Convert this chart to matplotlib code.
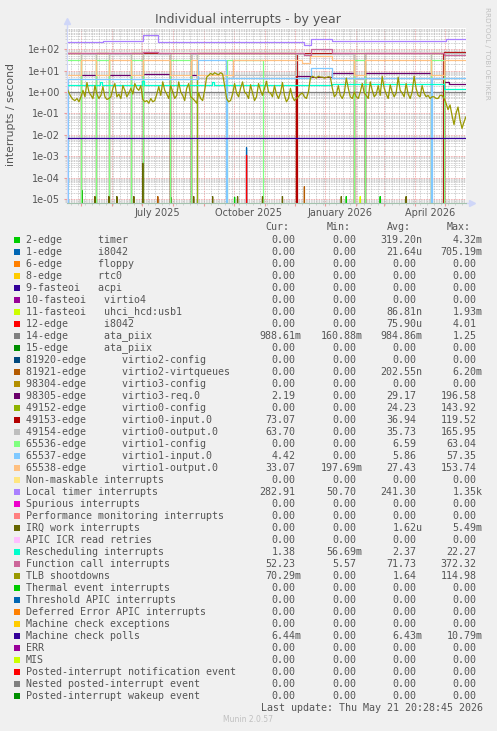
import numpy as np
import matplotlib
matplotlib.use("Agg")
import matplotlib.pyplot as plt
import matplotlib.dates as mdates
from matplotlib.patches import Rectangle
from matplotlib.ticker import LogLocator, FuncFormatter, NullFormatter

W, H = 497, 731
start = np.datetime64("2025-04-16T20:28")
span_days = 400

# x axis labels (rrdtool puts them mid-month)
month_labels = ["July 2025", "October 2025", "January 2026", "April 2026"]
month_label_dates = ["2025-07-16", "2025-10-16", "2026-01-16", "2026-04-16"]

# ---- series (day offset from start, value) ----
# step series: value holds from that day to the next breakpoint
timer_spike_days = [15, 76, 104, 168, 280, 314]
timer_spike_vals = [2.5e-5, 1.6e-5, 1.2e-5, 1.2e-5, 1.3e-5, 1.3e-5]
i8042_spike_days = [180]
i8042_spike_vals = [2.5e-3]
usb_spike_days = [294]
usb_spike_vals = [1.3e-5]
irq12_spike_days = [180]
irq12_spike_vals = [1.1e-3]
vq_spike_days = [91, 238]
vq_spike_vals = [1.3e-5, 3.8e-5]
irqwork_spike_days = [28, 42, 50, 67, 76, 127, 146, 171, 196, 216, 275, 340]
irqwork_spike_vals = [1.3e-5, 1.3e-5, 1.3e-5, 1.3e-5, 4.7e-4, 1.3e-5,
                      1.3e-5, 1.3e-5, 1.3e-5, 1.3e-5, 1.3e-5, 1.3e-5]

ata_days = [0, 400]
ata_vals = [1.0, 1.0]

req_days = [0, 14, 29, 42, 64, 76, 103, 124, 130, 230, 245, 266, 288, 299, 330, 365, 378, 383, 400]
req_vals = [0, 6.2, 0, 6.5, 0, 6.8, 0, 6.6, 0, 5.8, 5.0, 7.5, 0, 7.4, 7.8, 0, 2.8, 2.3, 2.3]

cfg0_days = [0, 14, 29, 42, 64, 76, 103, 124, 130, 230, 288, 299, 365, 378, 400]
cfg0_vals = [65, 0, 65, 0, 66, 0, 64, 0, 65, 0, 66, 0, 65, 0, 0]

in0_days = [0, 103, 124, 230, 231, 288, 299, 377, 378, 400]
in0_vals = [64, 0, 65, 0, 66, 0, 66, 0, 74, 74]

out0_days = [0, 14, 29, 42, 64, 76, 103, 124, 130, 166, 230, 288, 299, 365, 378, 400]
out0_vals = [4, 62, 4, 62, 4, 62, 4, 62, 4.5, 6, 63, 4, 64, 4, 64, 64]

cfg1_days = [0, 14, 29, 42, 64, 76, 103, 124, 160, 196, 288, 299, 365, 378, 400]
cfg1_vals = [30, 0, 30, 0, 30, 0, 31, 0, 30, 0, 30, 0, 31, 0, 0]

in1_days = [0, 1, 131, 159, 160, 245, 266, 365, 366, 400]
in1_vals = [0, 4.0, 30, 0, 4.5, 13, 4.6, 0, 4.4, 4.4]

out1_days = [0, 14, 29, 42, 64, 76, 103, 124, 130, 166, 236, 244, 266, 288, 299, 365, 378, 400]
out1_vals = [6, 33, 6, 33, 6, 33, 6, 33, 6, 33, 22, 46, 33, 6, 33, 6, 33, 33]

loc_days = [0, 36, 76, 91, 238, 245, 266, 380, 400]
loc_vals = [225, 232, 490, 228, 165, 290, 240, 290, 290]

resched_days = [0, 33, 35, 75, 77, 145, 147, 266, 378, 400]
resched_vals = [2.2, 3.0, 2.2, 3.2, 2.1, 3.0, 2.1, 2.5, 1.4, 1.4]

fcall_days = [0, 76, 91, 238, 245, 266, 378, 400]
fcall_vals = [68, 72, 68, 55, 100, 70, 52, 52]

mcp_days = [0, 400]
mcp_vals = [0.0068, 0.0068]

# TLB shootdowns, one reading every 2 days
tlb_vals = [1.5, 0.9, 0.6, 0.45, 0.4, 0.5, 0.35, 0.6,
            1.2, 0.6, 2.8, 1.0, 0.7, 0.5, 2.0, 0.8,
            0.5, 0.7, 1.8, 0.6, 0.45, 0.5, 0.6, 1.5,
            2.5, 0.6, 0.8, 0.5, 2.0, 1.2, 0.6, 0.9,
            1.5, 0.8, 2.5, 1.5, 1.2, 2.0, 0.45, 0.35,
            0.4, 0.3, 0.5, 0.35, 0.4, 0.8, 1.8, 0.7,
            3.0, 1.2, 0.8, 0.5, 2.0, 1.0, 0.5, 0.7,
            3.0, 1.0, 0.7, 0.4, 1.5, 2.5, 0.6, 0.5,
            0.4, 0.3, 0.9, 0.5, 0.4, 1.2, 5.0, 6.0,
            7.5, 6.5, 8.0, 7.0, 6.5, 8.0, 7.0, 2.0,
            0.5, 0.35, 0.4, 0.8, 2.5, 0.9, 0.6, 1.5,
            3.0, 1.0, 0.8, 0.5, 2.2, 0.9, 0.4, 0.6,
            2.5, 1.2, 0.7, 1.5, 3.2, 1.0, 0.9, 0.6,
            2.0, 0.8, 0.5, 0.9, 2.8, 0.7, 0.35, 0.5,
            1.5, 0.6, 0.4, 0.5, 0.6, 0.8, 0.9, 0.6,
            0.5, 1.0, 4.5, 5.5, 5.0, 4.5, 5.5, 5.0,
            5.0, 4.5, 4.8, 5.2, 5.0, 1.5, 0.6, 0.8,
            2.0, 0.7, 0.5, 0.9, 4.5, 1.5, 0.6, 0.5,
            1.0, 0.6, 0.5, 1.0, 2.5, 0.9, 0.7, 0.5,
            3.0, 1.2, 0.6, 0.8, 2.0, 0.7, 5.5, 1.5,
            0.8, 0.5, 2.2, 1.0, 0.6, 0.9, 5.0, 1.2,
            0.9, 0.6, 2.5, 0.8, 0.5, 1.0, 5.5, 1.5,
            0.7, 0.6, 2.0, 0.9, 0.6, 0.7, 0.5, 0.6,
            0.6, 0.5, 0.5, 0.7, 0.7, 0.5, 0.3, 0.15,
            0.25, 0.08, 0.03, 0.1, 0.2, 0.05, 0.02, 0.04,
            0.07]
tlb_days = np.arange(0, 401, 2)

# ---- legend table ----
legend_labels = [
    "2-edge      timer", "1-edge      i8042", "6-edge      floppy", "8-edge      rtc0",
    "9-fasteoi   acpi", "10-fasteoi   virtio4", "11-fasteoi   uhci_hcd:usb1",
    "12-edge      i8042", "14-edge      ata_piix", "15-edge      ata_piix",
    "81920-edge      virtio2-config", "81921-edge      virtio2-virtqueues",
    "98304-edge      virtio3-config", "98305-edge      virtio3-req.0",
    "49152-edge      virtio0-config", "49153-edge      virtio0-input.0",
    "49154-edge      virtio0-output.0", "65536-edge      virtio1-config",
    "65537-edge      virtio1-input.0", "65538-edge      virtio1-output.0",
    "Non-maskable interrupts", "Local timer interrupts", "Spurious interrupts",
    "Performance monitoring interrupts", "IRQ work interrupts", "APIC ICR read retries",
    "Rescheduling interrupts", "Function call interrupts", "TLB shootdowns",
    "Thermal event interrupts", "Threshold APIC interrupts",
    "Deferred Error APIC interrupts", "Machine check exceptions", "Machine check polls",
    "ERR", "MIS", "Posted-interrupt notification event",
    "Nested posted-interrupt event", "Posted-interrupt wakeup event",
]
legend_colors = [
    "#00CC00", "#0066B3", "#FF8000", "#FFCC00", "#330099", "#990099", "#CCFF00",
    "#FF0000", "#808080", "#008F00", "#00487D", "#B35A00", "#B38F00", "#6B006B",
    "#8FB300", "#B30000", "#BEBEBE", "#80FF80", "#80C9FF", "#FFC080", "#FFE680",
    "#AA80FF", "#EE00CC", "#FF8080", "#666600", "#FFBFFF", "#00FFCC", "#CC6699",
    "#999900", "#00CC00", "#0066B3", "#FF8000", "#FFCC00", "#330099", "#990099",
    "#CCFF00", "#FF0000", "#808080", "#008F00",
]
Z = "0.00"
cur_vals = [Z, Z, Z, Z, Z, Z, Z, Z, "988.61m", Z, Z, Z, Z, "2.19", Z, "73.07", "63.70",
            Z, "4.42", "33.07", Z, "282.91", Z, Z, Z, Z, "1.38", "52.23", "70.29m",
            Z, Z, Z, Z, "6.44m", Z, Z, Z, Z, Z]
min_vals = [Z, Z, Z, Z, Z, Z, Z, Z, "160.88m", Z, Z, Z, Z, Z, Z, Z, Z,
            Z, Z, "197.69m", Z, "50.70", Z, Z, Z, Z, "56.69m", "5.57", Z,
            Z, Z, Z, Z, Z, Z, Z, Z, Z, Z]
avg_vals = ["319.20n", "21.64u", Z, Z, Z, Z, "86.81n", "75.90u", "984.86m", Z, Z,
            "202.55n", Z, "29.17", "24.23", "36.94", "35.73", "6.59", "5.86", "27.43",
            Z, "241.30", Z, Z, "1.62u", Z, "2.37", "71.73", "1.64",
            Z, Z, Z, Z, "6.43m", Z, Z, Z, Z, Z]
max_vals = ["4.32m", "705.19m", Z, Z, Z, Z, "1.93m", "4.01", "1.25", Z, Z,
            "6.20m", Z, "196.58", "143.92", "119.52", "165.95", "63.04", "57.35", "153.74",
            Z, "1.35k", Z, Z, "5.49m", Z, "22.27", "372.32", "114.98",
            Z, Z, Z, Z, "10.79m", Z, Z, Z, Z, Z]
stat_headers = ["Cur:", "Min:", "Avg:", "Max:"]


def to_dates(days):
    return start + (np.asarray(days, dtype=float) * 86400).astype("timedelta64[s]")


def spikes(days, vals):
    # each spike rises from zero for one day and falls back
    xs, ys = [], []
    for d, v in zip(days, vals):
        xs += [d - 1, d, d + 1]
        ys += [0, v, 0]
    return to_dates(xs), ys


txt = "#555555"
fig = plt.figure(figsize=(W / 100, H / 100), dpi=100, facecolor="#F0F0F0")
ax = fig.add_axes([67 / W, 1 - 203 / H, (466 - 67) / W, (203 - 28) / H])
ax.set_facecolor("white")
ax.set_yscale("log", nonpositive="clip")
ax.set_ylim(10 ** -5.188, 10 ** 2.995)
ax.set_xlim(to_dates([0])[0], to_dates([span_days])[0])

lw = 0.9
# drawn in legend order so later series sit on top
x, y = spikes(timer_spike_days, timer_spike_vals)
ax.plot(x, y, color="#00CC00", lw=lw)
x, y = spikes(i8042_spike_days, i8042_spike_vals)
ax.plot(x, y, color="#0066B3", lw=lw)
x, y = spikes(usb_spike_days, usb_spike_vals)
ax.plot(x, y, color="#CCFF00", lw=lw)
x, y = spikes(irq12_spike_days, irq12_spike_vals)
ax.plot(x, y, color="#FF0000", lw=lw)
ax.step(to_dates(ata_days), ata_vals, where="post", color="#808080", lw=lw)
x, y = spikes(vq_spike_days, vq_spike_vals)
ax.plot(x, y, color="#B35A00", lw=lw)
ax.step(to_dates(req_days), req_vals, where="post", color="#6B006B", lw=lw)
ax.step(to_dates(cfg0_days), cfg0_vals, where="post", color="#8FB300", lw=lw)
ax.step(to_dates(in0_days), in0_vals, where="post", color="#B30000", lw=lw)
ax.step(to_dates(out0_days), out0_vals, where="post", color="#BEBEBE", lw=lw)
ax.step(to_dates(cfg1_days), cfg1_vals, where="post", color="#80FF80", lw=lw)
ax.step(to_dates(in1_days), in1_vals, where="post", color="#80C9FF", lw=lw)
ax.step(to_dates(out1_days), out1_vals, where="post", color="#FFC080", lw=lw)
ax.step(to_dates(loc_days), loc_vals, where="post", color="#AA80FF", lw=lw)
x, y = spikes(irqwork_spike_days, irqwork_spike_vals)
ax.plot(x, y, color="#666600", lw=lw)
ax.step(to_dates(resched_days), resched_vals, where="post", color="#00FFCC", lw=lw)
ax.step(to_dates(fcall_days), fcall_vals, where="post", color="#CC6699", lw=lw)
ax.plot(to_dates(tlb_days), tlb_vals, color="#999900", lw=lw)
ax.step(to_dates(mcp_days), mcp_vals, where="post", color="#330099", lw=lw)

# grid like rrdtool: dotted, pink majors, grey minors
ax.xaxis.set_major_locator(mdates.MonthLocator())
ax.xaxis.set_minor_locator(mdates.WeekdayLocator(byweekday=mdates.MO))
ax.xaxis.set_major_formatter(NullFormatter())
ax.yaxis.set_major_locator(LogLocator(base=10, numticks=20))
ax.yaxis.set_minor_locator(LogLocator(base=10, subs=np.arange(2, 10), numticks=20))
ax.yaxis.set_major_formatter(FuncFormatter(lambda v, p: f"{v:.0e}"))
ax.yaxis.set_minor_formatter(NullFormatter())
ax.grid(which="minor", color="#BDBDBD", ls=(0, (1, 1)), lw=0.6)
ax.grid(which="major", color="#E89090", ls=(0, (1, 1)), lw=0.6)
ax.set_axisbelow(True)
ax.tick_params(which="major", length=2, color="#EE9999", labelsize=7, labelcolor=txt, pad=3)
ax.tick_params(which="minor", length=1.5, color="#CCCCCC")

for s in ["top", "right"]:
    ax.spines[s].set_visible(False)
ax.spines["left"].set_color("#CFD6F8")
ax.spines["bottom"].set_color("#A3C2AE")
ax.plot([0, 0], [1, 1.035], color="#CFD6F8", lw=1, transform=ax.transAxes, clip_on=False)
ax.plot([0], [1.04], marker="^", ms=4, color="#CFD6F8", transform=ax.transAxes, clip_on=False)
ax.plot([1, 1.012], [0, 0], color="#CFD6F8", lw=1, transform=ax.transAxes, clip_on=False)
ax.plot([1.016], [0], marker=">", ms=4, color="#CFD6F8", transform=ax.transAxes, clip_on=False)

for lab, d in zip(month_labels, month_label_dates):
    ax.text(np.datetime64(d), -0.03, lab, transform=ax.get_xaxis_transform(),
            ha="center", va="top", fontsize=7, color=txt)

fig.text(0.499, 1 - 19 / H, "Individual interrupts - by year", ha="center", va="center",
         fontsize=9, color=txt)
fig.text(11 / W, 1 - 114 / H, "interrupts / second", rotation=90, ha="center",
         va="center", fontsize=7.8, color=txt)
fig.text(487 / W, 1 - 53 / H, "RRDTOOL / TOBI OETIKER", rotation=270, ha="center",
         va="center", fontsize=5.2, color="#C0C0C0")

# legend table in monospace
mono = "DejaVu Sans Mono"
fs = 7.2
cw = 6.02
col_edges = [301.5, 362.7, 422.7, 482.7]
row_y0, row_h = 239.7, 12.0
for head, e in zip(stat_headers, col_edges):
    fig.text((e - 2 * cw) / W, 1 - 227.3 / H, head, ha="right", va="center",
             family=mono, fontsize=fs, color=txt)
for i, (lab, col) in enumerate(zip(legend_labels, legend_colors)):
    yy = row_y0 + i * row_h
    fig.add_artist(Rectangle((14 / W, 1 - (yy + 3) / H), 6 / W, 6 / H,
                             transform=fig.transFigure, color=col, lw=0))
    fig.text(26 / W, 1 - yy / H, lab, ha="left", va="center", family=mono,
             fontsize=fs, color=txt)
    for col_vals, e in zip([cur_vals, min_vals, avg_vals, max_vals], col_edges):
        s = col_vals[i]
        right = e if s[-1].isalpha() else e - cw
        fig.text(right / W, 1 - yy / H, s, ha="right", va="center", family=mono,
                 fontsize=fs, color=txt)

fig.text(482.7 / W, 1 - 707.7 / H, "Last update: Thu May 21 20:28:45 2026", ha="right",
         va="center", family=mono, fontsize=fs, color=txt)
fig.text(0.499, 1 - 719.5 / H, "Munin 2.0.57", ha="center", va="center",
         fontsize=5.5, color="#C0C0C0")

fig.savefig("out.png", dpi=100, facecolor=fig.get_facecolor())
